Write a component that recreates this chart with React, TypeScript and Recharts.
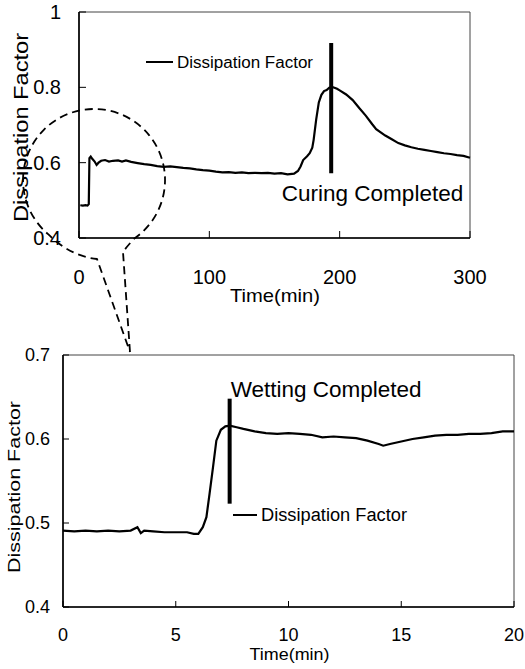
import React from "react";
import {
  LineChart,
  Line,
  XAxis,
  YAxis,
  ReferenceLine,
  ReferenceArea,
  ReferenceDot,
  Legend,
} from "recharts";

const FONT = "'Liberation Sans', Arial, Helvetica, sans-serif";

// curing run (upper panel)
const cureTime = [
  1, 3, 5, 6.5, 7.5, 8, 9, 10, 12, 13.5, 15, 17, 20, 23, 26, 30, 33, 36, 40, 45,
  50, 55, 60, 65, 70, 75, 80, 85, 90, 95, 100, 105, 110, 115, 120, 125, 130, 135,
  140, 145, 150, 155, 160, 165, 168, 170, 172, 175, 177, 179, 180, 182, 184, 186,
  188, 190, 192, 194, 196, 198, 200, 205, 210, 215, 220, 225, 228, 235, 240, 245,
  250, 255, 260, 265, 270, 275, 280, 285, 290, 295, 300,
];
const cureDf = [
  0.487, 0.486, 0.487, 0.486, 0.49, 0.612, 0.616, 0.611, 0.603, 0.594, 0.6, 0.605,
  0.607, 0.603, 0.605, 0.606, 0.603, 0.606, 0.602, 0.599, 0.596, 0.594, 0.591,
  0.589, 0.59, 0.588, 0.586, 0.585, 0.582, 0.58, 0.579, 0.576, 0.574, 0.575, 0.573,
  0.574, 0.572, 0.573, 0.572, 0.573, 0.571, 0.572, 0.569, 0.571, 0.578, 0.59, 0.607,
  0.617, 0.625, 0.64, 0.66, 0.715, 0.76, 0.78, 0.79, 0.793, 0.799, 0.801, 0.799,
  0.796, 0.792, 0.781, 0.766, 0.745, 0.725, 0.702, 0.689, 0.672, 0.662, 0.652,
  0.646, 0.641, 0.637, 0.634, 0.631, 0.628, 0.625, 0.623, 0.62, 0.618, 0.613,
];

// wetting run (lower panel, zoomed)
const wetTime = [
  0, 0.5, 1, 1.5, 2, 2.5, 3, 3.3, 3.45, 3.6, 4, 4.5, 5, 5.5, 5.8, 6, 6.2, 6.36, 6.5,
  6.65, 6.8, 7, 7.2, 7.4, 7.7, 8, 8.5, 9, 9.5, 10, 10.5, 11, 11.5, 12, 12.5, 13,
  13.5, 14, 14.2, 14.5, 15, 15.5, 16, 16.5, 17, 17.5, 18, 18.5, 19, 19.5, 20,
];
const wetDf = [
  0.491, 0.49, 0.491, 0.49, 0.491, 0.49, 0.491, 0.495, 0.488, 0.491, 0.49, 0.489,
  0.489, 0.489, 0.487, 0.487, 0.495, 0.507, 0.535, 0.566, 0.598, 0.611, 0.615,
  0.616, 0.614, 0.612, 0.609, 0.607, 0.606, 0.607, 0.606, 0.605, 0.602, 0.603,
  0.602, 0.601, 0.598, 0.594, 0.592, 0.594, 0.597, 0.6, 0.602, 0.604, 0.605, 0.605,
  0.606, 0.606, 0.607, 0.609, 0.609,
];

const cureTicksX = [0, 100, 200, 300];
const cureTicksY = [0.4, 0.6, 0.8, 1];
const wetTicksX = [0, 5, 10, 15, 20];
const wetTicksY = [0.4, 0.5, 0.6, 0.7];

// annotation marks: [time, bar top, bar bottom]
const cureMark = [193.5, 0.918, 0.572];
const wetMark = [7.39, 0.648, 0.523];
// annotation text anchor [time, value]
const cureNote = [225.2, 0.5195];
const wetNote = [11.67, 0.66];

const cureData = cureTime.map((t, i) => ({ t, df: cureDf[i] }));
const wetData = wetTime.map((t, i) => ({ t, df: wetDf[i] }));

function SideTitle(props: any) {
  const vb = props.viewBox || { x: 0, y: 0, width: 0, height: 0 };
  const cx = vb.x + props.shiftX;
  const cy = vb.y + vb.height / 2 + props.shiftY;
  return (
    <text
      x={cx}
      y={cy}
      transform={`rotate(-90 ${cx} ${cy})`}
      textAnchor="middle"
      dominantBaseline="central"
      fontSize={props.size}
      textLength={props.len}
      lengthAdjust="spacingAndGlyphs"
      fontFamily={FONT}
      fill="#000"
    >
      {props.text}
    </text>
  );
}

function BottomTitle(props: any) {
  const vb = props.viewBox || { x: 0, y: 0, width: 0, height: 0 };
  const cx = vb.x + vb.width / 2 + props.shiftX;
  const cy = vb.y + props.shiftY;
  return (
    <text
      x={cx}
      y={cy}
      textAnchor="middle"
      fontSize={props.size}
      textLength={props.len}
      lengthAdjust="spacingAndGlyphs"
      fontFamily={FONT}
      fill="#000"
    >
      {props.text}
    </text>
  );
}

function KeyBox({ size, len, lineLen }: { size: number; len: number; lineLen: number }) {
  const h = 24;
  return (
    <svg width={lineLen + len + 12} height={h} style={{ display: "block" }}>
      <line x1={0} x2={lineLen} y1={h / 2} y2={h / 2} stroke="#000" strokeWidth={2} />
      <text
        x={lineLen + 4}
        y={h / 2}
        dominantBaseline="central"
        fontSize={size}
        textLength={len}
        lengthAdjust="spacingAndGlyphs"
        fontFamily={FONT}
        fill="#000"
      >
        Dissipation Factor
      </text>
    </svg>
  );
}

export default function App() {
  return (
    <div
      style={{
        position: "absolute",
        left: 0,
        top: 0,
        width: 525,
        height: 669,
        background: "#fff",
        fontFamily: FONT,
      }}
    >
      <div style={{ position: "absolute", left: 0, top: 0 }}>
        <LineChart
          width={525}
          height={320}
          data={cureData}
          margin={{ top: 12, right: 55, bottom: 0, left: 0 }}
        >
          <XAxis
            dataKey="t"
            type="number"
            domain={[0, 300]}
            ticks={cureTicksX}
            interval={0}
            height={82}
            tickSize={-7}
            tickMargin={39}
            axisLine={{ stroke: "#000", strokeWidth: 1.6 }}
            tickLine={{ stroke: "#000" }}
            tick={{ fill: "#000", fontSize: 20, fontFamily: FONT }}
            label={<BottomTitle text="Time(min)" size={19} len={90} shiftX={0.5} shiftY={64} />}
          />
          <YAxis
            type="number"
            domain={[0.4, 1]}
            ticks={cureTicksY}
            interval={0}
            width={79}
            tickSize={-7}
            tickMargin={25}
            axisLine={{ stroke: "#000", strokeWidth: 1.6 }}
            tickLine={{ stroke: "#000" }}
            tick={{ fill: "#000", fontSize: 20, fontFamily: FONT }}
            label={<SideTitle text="Dissipation Factor" size={21} len={189} shiftX={20} shiftY={2.5} />}
          />
          <ReferenceArea x1={0} x2={300} y1={0.4} y2={1} fill="none" stroke="#444" strokeWidth={1} />
          <Legend
            layout="horizontal"
            verticalAlign="middle"
            align="center"
            wrapperStyle={{ left: 146, top: 50, width: 200, height: 24 }}
            content={() => <KeyBox size={16} len={136} lineLen={27} />}
          />
          <Line
            dataKey="df"
            stroke="#000"
            strokeWidth={2.2}
            dot={false}
            activeDot={false}
            isAnimationActive={false}
          />
          <ReferenceLine
            segment={[
              { x: cureMark[0], y: cureMark[1] },
              { x: cureMark[0], y: cureMark[2] },
            ]}
            stroke="#000"
            strokeWidth={4}
          />
          <ReferenceDot
            x={cureNote[0]}
            y={cureNote[1]}
            r={0}
            fill="none"
            stroke="none"
            label={{
              value: "Curing Completed",
              position: "center",
              fontSize: 22.5,
              fill: "#000",
              fontFamily: FONT,
            }}
          />
        </LineChart>
      </div>

      <div style={{ position: "absolute", left: 0, top: 330 }}>
        <LineChart
          width={525}
          height={339}
          data={wetData}
          margin={{ top: 25, right: 11, bottom: 0, left: 0 }}
        >
          <XAxis
            dataKey="t"
            type="number"
            domain={[0, 20]}
            ticks={wetTicksX}
            interval={0}
            height={62}
            tickSize={-6}
            tickMargin={27}
            axisLine={{ stroke: "#000", strokeWidth: 1.6 }}
            tickLine={{ stroke: "#000" }}
            tick={{ fill: "#000", fontSize: 18, fontFamily: FONT }}
            label={<BottomTitle text="Time(min)" size={17} len={80} shiftX={1} shiftY={53} />}
          />
          <YAxis
            type="number"
            domain={[0.4, 0.7]}
            ticks={wetTicksY}
            interval={0}
            width={63}
            tickSize={-6}
            tickMargin={19}
            axisLine={{ stroke: "#000", strokeWidth: 1.6 }}
            tickLine={{ stroke: "#000" }}
            tick={{ fill: "#000", fontSize: 18, fontFamily: FONT }}
            label={<SideTitle text="Dissipation Factor" size={17} len={172} shiftX={14} shiftY={6} />}
          />
          <ReferenceArea x1={0} x2={20} y1={0.4} y2={0.7} fill="none" stroke="#444" strokeWidth={1} />
          <Legend
            layout="horizontal"
            verticalAlign="middle"
            align="center"
            wrapperStyle={{ left: 233, top: 173, width: 200, height: 24 }}
            content={() => <KeyBox size={18} len={146} lineLen={24} />}
          />
          <Line
            dataKey="df"
            stroke="#000"
            strokeWidth={2.2}
            dot={false}
            activeDot={false}
            isAnimationActive={false}
          />
          <ReferenceLine
            segment={[
              { x: wetMark[0], y: wetMark[1] },
              { x: wetMark[0], y: wetMark[2] },
            ]}
            stroke="#000"
            strokeWidth={4}
          />
          <ReferenceDot
            x={wetNote[0]}
            y={wetNote[1]}
            r={0}
            fill="none"
            stroke="none"
            label={{
              value: "Wetting Completed",
              position: "center",
              fontSize: 22.5,
              fill: "#000",
              fontFamily: FONT,
            }}
          />
        </LineChart>
      </div>

      {/* zoom callout linking the two panels */}
      <svg
        width={525}
        height={669}
        style={{ position: "absolute", left: 0, top: 0, pointerEvents: "none" }}
      >
        <path
          d="M 130 352 L 123 252 Q 128 245 134.7 238.2 A 71 71 0 1 0 48.4 234.4 Q 70 256 97 259 L 130 352"
          fill="none"
          stroke="#000"
          strokeWidth={1.8}
          strokeDasharray="8 5"
        />
      </svg>
    </div>
  );
}
